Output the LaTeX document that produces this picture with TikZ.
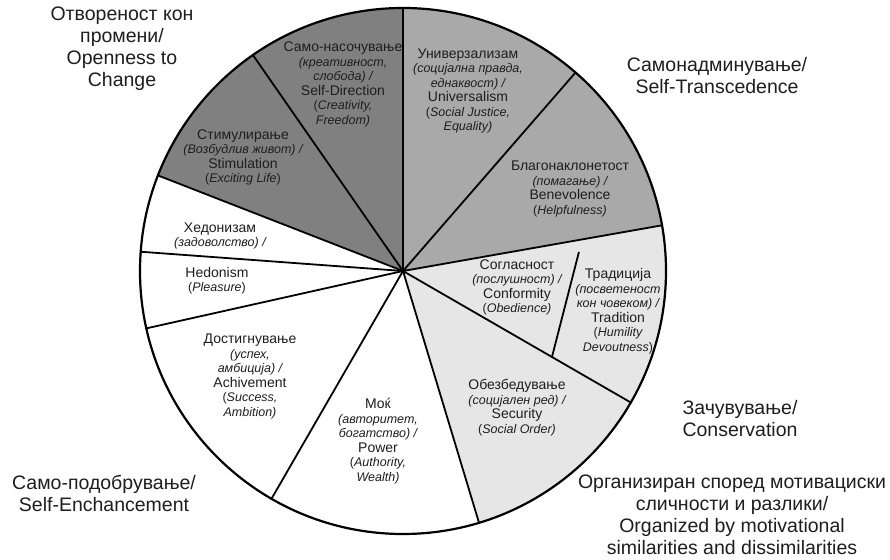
\documentclass[tikz,border=0pt]{standalone}
\usepackage{fontspec}
\setmainfont{Liberation Sans}
\usetikzlibrary{calc}
\definecolor{darkg}{HTML}{808080}
\definecolor{midg}{HTML}{A9A9A9}
\definecolor{lightg}{HTML}{E6E6E6}
\definecolor{txt}{HTML}{1E1E1E}
\newcommand{\il}[1]{{\fontsize{12.5}{14.5}\selectfont\itshape #1}}
\newcommand{\up}[1]{\textup{#1}}
\tikzset{
  sec/.style={align=center, inner sep=0pt, text=txt, font=\fontsize{14}{14.5}\selectfont},
  outerlbl/.style={align=center, inner sep=0pt, text=txt, font=\fontsize{19.5}{22}\selectfont},
  spoke/.style={line width=1.8pt},
  rim/.style={line width=2.2pt}
}
\begin{document}
\begin{tikzpicture}[x=1pt,y=1pt]
\useasboundingbox (0,0) rectangle (890,559);
\fill[white] (0,0) rectangle (890,559);
\coordinate (c) at (403,288);
% sector fills
\fill[darkg] (c) -- ++(90:263pt) arc[start angle=90, end angle=158.7, radius=263pt] -- cycle;
\fill[midg] (c) -- ++(10:263pt) arc[start angle=10, end angle=90, radius=263pt] -- cycle;
\fill[lightg] (c) -- ++(-73.2:263pt) arc[start angle=-73.2, end angle=10, radius=263pt] -- cycle;
% spokes
\foreach \a in {90,124.8,158.7,175.8,192.6,240,286.8,330,10,49}
  \draw[spoke] (c) -- ++(\a:263pt);
\coordinate (d1) at ($(c)+(6.2:177pt)$);
\coordinate (d2) at ($(c)+(-30:172pt)$);
\draw[spoke] (d1) -- (d2);
\draw[rim] (c) circle[radius=263pt];
% sector labels
\node[sec] (selfdir) at (343,474.5) {Само-насочување\\\il{(креативност,}\\\il{слобода) /}\\Self-Direction\\\il{\up{(}Creativity,}\\\il{Freedom)}};
\node[sec] (stim) at (243,401.5) {Стимулирање\\\il{(Возбудлив живот) /}\\Stimulation\\\il{\up{(}Exciting Life\up{)}}};
\node[sec] (hedmk) at (220,323) {Хедонизам\\\il{(задоволство) /}};
\node[sec] (hed) at (217,278.5) {Hedonism\\\il{\up{(}Pleasure\up{)}}};
\node[sec] (ach) at (250,182.5) {Достигнување\\\il{(успех,}\\\il{амбиција) /}\\Achivement\\\il{\up{(}Success,}\\\il{Ambition)}};
\node[sec] (pow) at (378,118) {Моќ\\\il{(авторитет,}\\\il{богатство) /}\\Power\\\il{\up{(}Authority,}\\\il{Wealth)}};
\node[sec] (uni) at (468,468) {Универзализам\\\il{(социјална правда,}\\\il{еднаквост) /}\\Universalism\\\il{\up{(}Social Justice,}\\\il{Equality)}};
\node[sec] (ben) at (570,370) {Благонаклонетост\\\il{(помагање) /}\\Benevolence\\\il{\up{(}Helpfulness)}};
\node[sec] (conf) at (517,271.5) {Согласност\\\il{(послушност) /}\\Conformity\\\il{\up{(}Obedience)}};
\node[sec] (trad) at (618,248) {Традиција\\\il{(посветеност}\\\il{кон човеком) /}\\Tradition\\\il{\up{(}Humility}\\\il{Devoutness\up{)}}};
\node[sec] (sec) at (517,151.5) {Обезбедување\\\il{(социјален ред) /}\\Security\\\il{\up{(}Social Order)}};
% outer labels
\node[outerlbl] (open) at (122,510.5) {Отвореност кон\\промени/\\Openness to\\Change};
\node[outerlbl] (trans) at (717,483) {Самонадминување/\\Self-Transcedence};
\node[outerlbl] (cons) at (740,140) {Зачувување/\\Conservation};
\node[outerlbl] (org) at (732,44.5) {Организиран според мотивациски\\сличности и разлики/\\Organized by motivational\\similarities and dissimilarities};
\node[outerlbl] (enh) at (104,65.5) {Само-подобрување/\\Self-Enchancement};
\end{tikzpicture}
\end{document}
